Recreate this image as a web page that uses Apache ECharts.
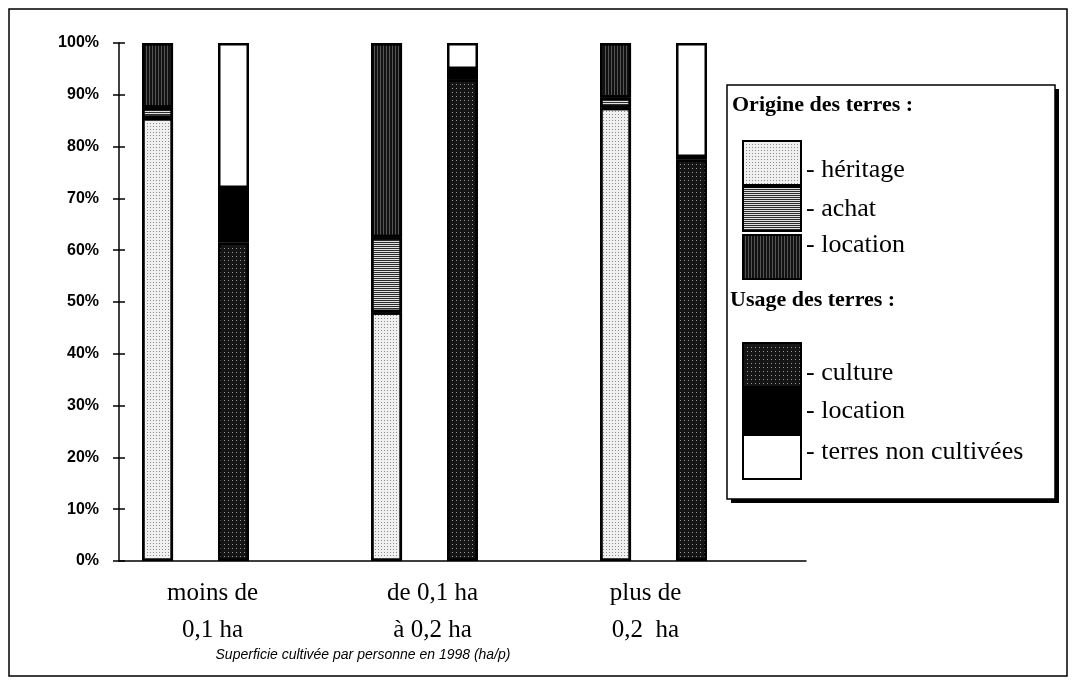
<!DOCTYPE html>
<html>
<head>
<meta charset="utf-8">
<style>
  html, body { margin: 0; padding: 0; background: #fff; }
  #chart { width: 1074px; height: 683px; }
</style>
<script src="https://cdn.jsdelivr.net/npm/echarts@6/dist/echarts.min.js"></script>
</head>
<body>
<div id="chart"></div>
<script>
// categories (x axis, two lines each)
const categories = ['moins de\n0,1 ha', 'de 0,1 ha\nà 0,2 ha', 'plus de\n0,2  ha']

// origine des terres (%)
const heritage = [85.5, 48, 87.5]
const achat = [2, 14.5, 2]
const locationOrigine = [12.5, 37.5, 10.5]

// usage des terres (%)
const culture = [61.5, 93, 77.5]
const locationUsage = [10.5, 2, 0.5]
const nonCultivees = [28, 5, 22]

// empty third slot in each category (keeps the two bars left of centre)
const spacer = [0, 0, 0]

const yTicks = [0, 10, 20, 30, 40, 50, 60, 70, 80, 90, 100]

const serif = '"Liberation Serif", "Times New Roman", serif'
const sans = '"Liberation Sans", Arial, sans-serif'

const border = { borderColor: '#000', borderWidth: 2.5 }

function bar(name, stack, data, color, decal) {
  return {
    name,
    type: 'bar',
    stack,
    data,
    barWidth: 31,
    barGap: '145%',
    itemStyle: Object.assign({ color, decal }, border),
    emphasis: { disabled: true },
  }
}

const chart = echarts.init(document.getElementById('chart'))

const series = [
  bar('o:héritage', 'o', heritage, '#f0f0f0',
    { symbol: 'rect', symbolSize: 1, color: '#8c8c8c', dashArrayX: [1, 2], dashArrayY: [1, 2] }),
  bar('o:achat', 'o', achat, '#e2e2e2',
    { symbol: 'rect', symbolSize: 1, color: '#2a2a2a', dashArrayX: [1, 0], dashArrayY: [1, 1] }),
  bar('o:location', 'o', locationOrigine, '#555',
    { symbol: 'rect', symbolSize: 1, color: '#111', dashArrayX: [2, 1], dashArrayY: [1, 0] }),
  bar('u:culture', 'u', culture, '#151515',
    { symbol: 'rect', symbolSize: 1, color: '#9a9a9a', dashArrayX: [1, 3], dashArrayY: [1, 3] }),
  bar('u:location', 'u', locationUsage, '#000', null),
  bar('u:terres non cultivées', 'u', nonCultivees, '#fff', null),
  {
    name: 'spacer', type: 'bar', stack: 's', data: spacer, barWidth: 31, barGap: '145%',
    itemStyle: { color: 'transparent' }, silent: true,
  },
]

// per-item vertical nudges of the legend labels (top, bottom padding)
const legendRich = {}
const nudges = {
  'o:héritage': [14, 0], 'o:achat': [0, 0], 'o:location': [0, 24],
  'u:culture': [16, 0], 'u:location': [0, 0], 'u:terres non cultivées': [0, 10],
}
Object.keys(nudges).forEach((k, i) => {
  legendRich['n' + i] = {
    fontFamily: serif, fontSize: 26, color: '#000', lineHeight: 14,
    padding: [nudges[k][0], 0, nudges[k][1], 0],
  }
})

const legendBase = {
  orient: 'vertical',
  left: 742,
  padding: 0,
  icon: 'rect',
  itemWidth: 58,
  itemHeight: 44,
  itemGap: 0,
  selectedMode: false,
  z: 20,
  textStyle: { fontFamily: serif, fontSize: 26, lineHeight: 14, color: '#000', rich: legendRich },
  formatter: (name) => `{n${Object.keys(nudges).indexOf(name)}|- ${name.slice(2)}}`,
}

chart.setOption({
  animation: false,
  backgroundColor: '#fff',
  grid: { left: 119, top: 43, width: 687, height: 518 },
  xAxis: [
    {
      type: 'category',
      data: categories,
      axisLine: { lineStyle: { color: '#000', width: 1.5 } },
      axisTick: { length: 6, lineStyle: { color: '#000', width: 1.5 } },
      axisLabel: {
        margin: 14,
        lineHeight: 37,
        color: '#000',
        fontFamily: serif,
        fontSize: 25,
        formatter: (v, i) => v.split('\n').map((s) => `{c${i}|${s}}`).join('\n'),
        rich: {
          c0: { fontFamily: serif, fontSize: 25, lineHeight: 37, padding: [0, 42, 0, 0] },
          c1: { fontFamily: serif, fontSize: 25, lineHeight: 37, padding: [0, 60, 0, 0] },
          c2: { fontFamily: serif, fontSize: 25, lineHeight: 37, padding: [0, 92, 0, 0] },
        },
      },
    },
    {
      type: 'category',
      data: categories,
      position: 'bottom',
      axisLine: { show: false },
      axisTick: { inside: true, length: 6, lineStyle: { color: '#000', width: 1.5 } },
      axisLabel: { show: false },
    },
  ],
  yAxis: [
    {
      type: 'value',
      min: yTicks[0],
      max: yTicks[yTicks.length - 1],
      interval: 10,
      splitLine: { show: false },
      axisLine: { show: true, lineStyle: { color: '#000', width: 1.5 } },
      axisTick: { show: true, length: 6, lineStyle: { color: '#000', width: 1.5 } },
      axisLabel: {
        margin: 20,
        color: '#000',
        fontFamily: sans,
        fontWeight: 'bold',
        fontSize: 16,
        formatter: '{value}%',
      },
    },
    {
      type: 'value',
      min: yTicks[0],
      max: yTicks[yTicks.length - 1],
      interval: 10,
      position: 'left',
      splitLine: { show: false },
      axisLine: { show: false },
      axisTick: { show: true, inside: true, length: 6, lineStyle: { color: '#000', width: 1.5 } },
      axisLabel: { show: false },
    },
  ],
  legend: [
    Object.assign({}, legendBase, { top: 140, data: ['o:héritage', 'o:achat', 'o:location'] }),
    Object.assign({}, legendBase, { top: 342, data: ['u:culture', 'u:location', 'u:terres non cultivées'] }),
  ],
  graphic: [
    {
      type: 'rect', z: 1,
      shape: { x: 9, y: 9, width: 1058, height: 667 },
      style: { fill: 'none', stroke: '#000', lineWidth: 1.5 },
    },
    {
      type: 'rect', z: 10,
      shape: { x: 731, y: 89, width: 328, height: 414 },
      style: { fill: '#000' },
    },
    {
      type: 'rect', z: 11,
      shape: { x: 727, y: 85, width: 328, height: 414 },
      style: { fill: '#fff', stroke: '#000', lineWidth: 1.5 },
    },
    {
      type: 'text', z: 12, x: 732, y: 105,
      style: {
        text: 'Origine des terres :', fontFamily: serif, fontWeight: 'bold', fontSize: 22, fill: '#000',
        verticalAlign: 'middle',
      },
    },
    {
      type: 'text', z: 12, x: 730, y: 300,
      style: {
        text: 'Usage des terres :', fontFamily: serif, fontWeight: 'bold', fontSize: 22, fill: '#000',
        verticalAlign: 'middle',
      },
    },
    {
      type: 'text', z: 12, x: 363, y: 655,
      style: {
        text: 'Superficie cultivée par personne en 1998 (ha/p)',
        fontFamily: sans, fontStyle: 'italic', fontSize: 14, fill: '#000',
        align: 'center', verticalAlign: 'middle',
      },
    },
  ],
  series,
})
</script>
</body>
</html>
